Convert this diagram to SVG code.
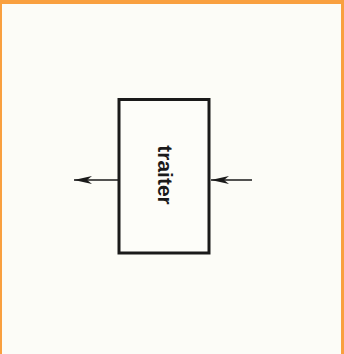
<svg xmlns="http://www.w3.org/2000/svg" width="344" height="354" viewBox="0 0 344 354">
<style>
.box{fill:#fdfdf9;stroke:#1a1a1a;stroke-width:3}
.conn{stroke:#1a1a1a;stroke-width:1.6;fill:none}
.lbl{font-family:"Liberation Sans",Arial,sans-serif;font-weight:bold;font-size:21px;fill:#1a1a1a}
</style>
<defs>
<marker id="ah" markerWidth="18" markerHeight="8" refX="18" refY="4" orient="auto" markerUnits="userSpaceOnUse">
<path d="M0,0 L18,4 L0,8 L5,4 Z" fill="#1a1a1a"/>
</marker>
</defs>
<rect x="0" y="0" width="344" height="354" fill="#fcfcf7"/>
<rect x="0" y="0" width="344" height="4" fill="#f9a03f"/>
<rect x="0" y="0" width="2" height="354" fill="#f9a03f"/>
<rect x="341" y="0" width="3" height="354" fill="#f9a03f"/>
<g id="traiter">
<rect class="box" x="119" y="99.5" width="90" height="153.5"/>
<text class="lbl" transform="translate(158,175) rotate(90)" text-anchor="middle">traiter</text>
</g>
<g id="connectors">
<line class="conn" x1="118" y1="180" x2="74" y2="180" marker-end="url(#ah)"/>
<line class="conn" x1="252" y1="180" x2="211" y2="180" marker-end="url(#ah)"/>
</g>
</svg>
